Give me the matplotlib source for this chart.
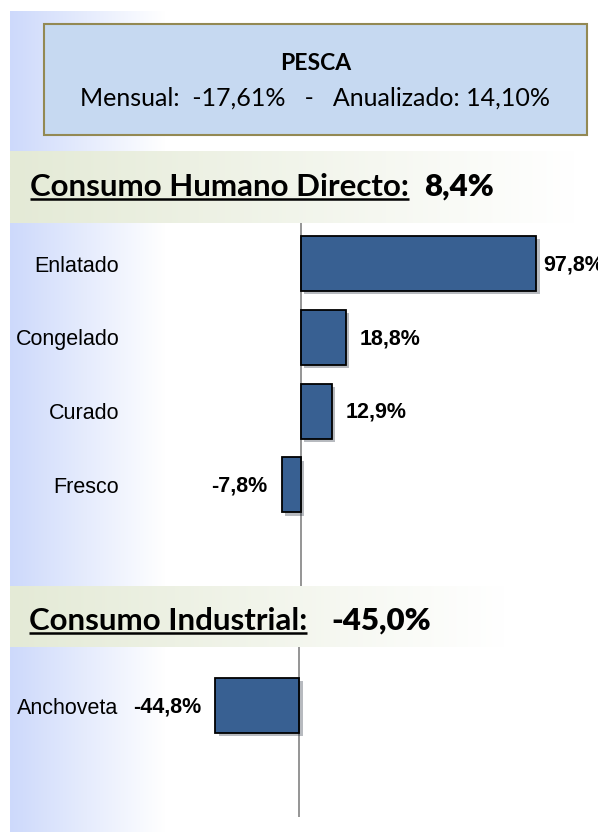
import numpy as np
import matplotlib
matplotlib.use("Agg")
import matplotlib.pyplot as plt
from matplotlib.patches import Rectangle
from matplotlib import patheffects as pe
from matplotlib.colors import to_rgb

W, H, DPI = 598, 832, 100

# --- data ---
titulo = "PESCA"
mensual = "-17,61%"
anualizado = "14,10%"

chd_nombre = "Consumo Humano Directo:"
chd_total = "8,4%"
chd_cats = ["Enlatado", "Congelado", "Curado", "Fresco"]
chd_vals = [97.8, 18.8, 12.9, -7.8]

ci_nombre = "Consumo Industrial:"
ci_total = "-45,0%"
ci_cats = ["Anchoveta"]
ci_vals = [-44.8]

BAR = "#386092"
NARROW = ["Liberation Sans", "DejaVu Sans"]
TITLE = ["Lato", "DejaVu Sans"]


def fmt(v):
    return f"{v:.1f}%".replace(".", ",")


def hgrad(ax, x0, x1, y0, y1, c0, c1, z=0):
    # horizontal gradient from c0 (left) to c1 (right)
    t = np.linspace(0, 1, 256)[:, None]
    img = np.array(to_rgb(c0)) * (1 - t) + np.array(to_rgb(c1)) * t
    ax.imshow(img[None, :, :], extent=(x0, x1, y1, y0), aspect="auto",
              interpolation="bilinear", zorder=z)


fig = plt.figure(figsize=(W / DPI, H / DPI), dpi=DPI)
bg = fig.add_axes([0, 0, 1, 1])
bg.axis("off")

# background decoration
hgrad(bg, 10, 165, 11, H, "#cdd9fb", "#ffffff", z=0)
hgrad(bg, 10, 575, 151, 223, "#e4ead6", "#ffffff", z=1)
hgrad(bg, 10, 505, 586, 647, "#e4ead6", "#ffffff", z=1)
bg.set_xlim(0, W)
bg.set_ylim(H, 0)

bg.add_patch(Rectangle((44, 24), 543, 111, facecolor="#c6d9f1",
                       edgecolor="#938953", linewidth=1.5, zorder=2))
bg.text(315.5, 64, titulo, ha="center", va="center", fontsize=16.5,
        fontweight="bold", family=TITLE, zorder=3)
bg.text(315.5, 98, f"Mensual:  {mensual}   -   Anualizado: {anualizado}",
        ha="center", va="center", fontsize=18, family=TITLE, zorder=3)

renderer = fig.canvas.get_renderer()


def section_title(x, y, nombre, total, gap):
    t = bg.text(x, y, nombre, ha="left", va="baseline", fontsize=22.5,
                fontweight="bold", family=TITLE, zorder=3)
    bb = t.get_window_extent(renderer).transformed(bg.transData.inverted())
    bg.plot([bb.x0, bb.x1], [y + 3, y + 3], color="black", lw=1.8,
            solid_capstyle="butt", zorder=3)
    bg.text(bb.x1 + gap, y, total, ha="left", va="baseline", fontsize=22.5,
            fontweight="heavy", family=TITLE, zorder=3)


section_title(30, 196, chd_nombre, chd_total, 15)
section_title(29, 630, ci_nombre, ci_total, 24)


def bar_panel(cats, vals, box, zero_px, px_per_unit, first_center, step):
    left, top, right, bottom = box
    ax = fig.add_axes([left / W, 1 - bottom / H, (right - left) / W,
                       (bottom - top) / H])
    ax.set_facecolor("none")
    pos = np.arange(len(cats))
    ax.barh(pos, vals, height=0.745, color=BAR, edgecolor="black",
            linewidth=1.3, zorder=3,
            path_effects=[pe.SimplePatchShadow(offset=(2.5, -2.5), alpha=0.3),
                          pe.Normal()])
    ax.axvline(0, color="#8c8c8c", lw=1.3, zorder=2)
    ax.set_xlim((left - zero_px) / px_per_unit, (right - zero_px) / px_per_unit)
    ax.set_ylim((bottom - first_center) / step, (top - first_center) / step)
    for s in ax.spines.values():
        s.set_visible(False)
    ax.set_xticks([])
    ax.set_yticks(pos)
    ax.set_yticklabels(cats, family=NARROW, fontsize=15.5)
    ax.tick_params(axis="y", length=0, pad=7)
    vmax = max(vals)
    for i, v in enumerate(vals):
        off = 5 if v == vmax and v > 50 else 10
        ax.annotate(fmt(v), xy=(v, i), xytext=(off if v > 0 else -off, -1),
                    textcoords="offset points",
                    ha="left" if v > 0 else "right", va="center",
                    fontsize=15.5, fontweight="bold", family=NARROW,
                    annotation_clip=False)
    return ax


bar_panel(chd_cats, chd_vals, (129, 223, W, 586), 300.5, 2.413, 263.5, 73.8)
bar_panel(ci_cats, ci_vals, (128, 647, W, 817), 299.4, 1.874, 705.5, 73.8)

fig.savefig("out.png", dpi=DPI)
